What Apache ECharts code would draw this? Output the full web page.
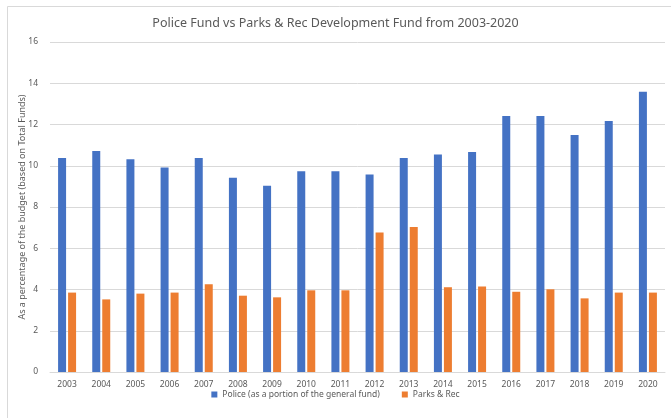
<!DOCTYPE html>
<html>
<head>
<meta charset="utf-8">
<script src="https://cdn.jsdelivr.net/npm/echarts@6/dist/echarts.min.js"></script>
<style>
html,body{margin:0;padding:0;background:#fff;}
#chart{width:671px;height:418px;}
</style>
</head>
<body>
<div id="chart"></div>
<script>
const years = ['2003','2004','2005','2006','2007','2008','2009','2010','2011','2012','2013','2014','2015','2016','2017','2018','2019','2020'];
const police = [10.37,10.72,10.31,9.92,10.37,9.42,9.03,9.73,9.73,9.58,10.37,10.55,10.67,12.41,12.41,11.49,12.17,13.59];
const parks = [3.85,3.52,3.80,3.85,4.25,3.70,3.62,3.96,3.96,6.76,7.03,4.11,4.15,3.89,4.01,3.57,3.85,3.85];
const policeName = 'Police (as a portion of the general fund)';
const parksName = 'Parks & Rec';
const titleText = 'Police Fund vs Parks & Rec Development Fund from 2003-2020';
const yAxisName = 'As a percentage of the budget (based on Total Funds)';

const font = 'Noto Sans';
const chart = echarts.init(document.getElementById('chart'), null, {renderer:'canvas'});
chart.setOption({
  animation: false,
  backgroundColor: '#fff',
  graphic: [{
    type: 'rect', left: 5, top: 4, silent: true,
    shape: {width: 700, height: 450},
    style: {fill: 'none', stroke: '#d9d9d9', lineWidth: 1}
  }],
  title: {
    text: titleText, left: 'center', top: 12,
    textStyle: {fontFamily: font, fontSize: 12.5, fontWeight: 'normal', color: '#595959'}
  },
  legend: {
    bottom: 14, left: 'center', itemWidth: 6, itemHeight: 6, itemGap: 22,
    icon: 'rect',
    textStyle: {fontFamily: font, fontSize: 8.5, color: '#595959'},
    data: [policeName, parksName]
  },
  grid: {left: 50, right: 6, top: 42, bottom: 46, containLabel: false},
  xAxis: {
    type: 'category', data: years,
    axisLine: {lineStyle: {color: '#d9d9d9'}},
    axisTick: {show: false},
    axisLabel: {fontFamily: font, fontSize: 8.5, color: '#595959', margin: 8}
  },
  yAxis: {
    type: 'value', min: 0, max: 16, interval: 2,
    name: yAxisName, nameLocation: 'middle', nameGap: 23, nameMoveOverlap: false,
    nameTextStyle: {fontFamily: font, fontSize: 9, color: '#595959'},
    axisLine: {show: false}, axisTick: {show: false},
    axisLabel: {fontFamily: font, fontSize: 8.5, color: '#595959', margin: 12},
    splitLine: {lineStyle: {color: '#d9d9d9'}}
  },
  series: [
    {name: policeName, type: 'bar', data: police, barWidth: 8, barGap: '25%',
     itemStyle: {color: '#4472c4'}},
    {name: parksName, type: 'bar', data: parks, barWidth: 8,
     itemStyle: {color: '#ed7d31'}}
  ]
});
</script>
</body>
</html>
